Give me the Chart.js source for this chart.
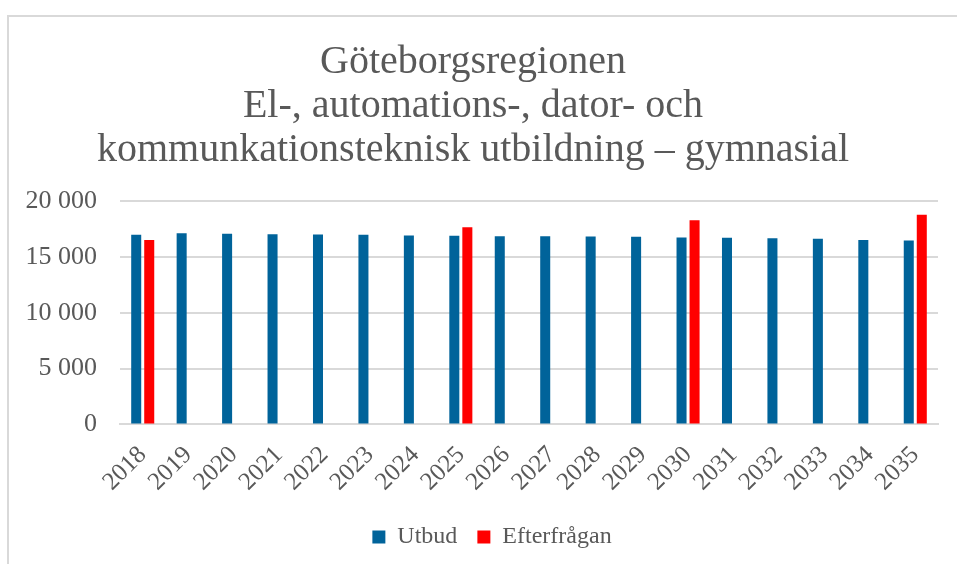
<!DOCTYPE html>
<html>
<head>
<meta charset="utf-8">
<script src="https://cdn.jsdelivr.net/npm/chart.js@4"></script>
<style>
    html, body { margin: 0; padding: 0; background: #fff; overflow: hidden; }
    #frame {
        position: absolute; left: 7px; top: 15px;
        width: 1000px; height: 600px;
        border: 2px solid #d9d9d9;
        box-sizing: border-box;
    }
    #wrap { position: absolute; left: 8px; top: 16px; width: 960px; height: 543px; }
</style>
</head>
<body>
<div id="frame"></div>
<div id="wrap"><canvas id="chart"></canvas></div>
<script>
// Data
const years = ['2018', '2019', '2020', '2021', '2022', '2023', '2024', '2025', '2026',
    '2027', '2028', '2029', '2030', '2031', '2032', '2033', '2034', '2035'];
const utbud = [16970, 17120, 17060, 17030, 17000, 16970, 16910, 16880, 16850,
    16840, 16820, 16790, 16730, 16700, 16670, 16610, 16520, 16460];
const efterfragan = [16520, null, null, null, null, null, null, 17650, null,
    null, null, null, 18280, null, null, null, null, 18760];
const yTicks = [0, 5000, 10000, 15000, 20000];

const textColor = '#595959';
const fontFamily = '"Liberation Serif", "DejaVu Serif", serif';

const fmt = v => String(v).replace(/\B(?=(\d{3})+(?!\d))/g, ' ');

// legend row is centred including its trailing padding, nudge it back
const legendShift = {
    id: 'legendShift',
    afterLayout(chart) {
        chart.legend.left += 19;
        chart.legend.right += 19;
    }
};

const ctx = document.getElementById('chart').getContext('2d');
new Chart(ctx, {
    type: 'bar',
    data: {
        labels: years,
        datasets: [{
            label: 'Utbud',
            data: utbud,
            backgroundColor: '#00639a',
            barPercentage: 0.77,
            categoryPercentage: 0.573
        }, {
            label: 'Efterfrågan',
            data: efterfragan,
            backgroundColor: '#ff0000',
            barPercentage: 0.77,
            categoryPercentage: 0.573
        }]
    },
    plugins: [legendShift],
    options: {
        responsive: true,
        maintainAspectRatio: false,
        animation: false,
        layout: { padding: { left: 0, right: 30, top: 0, bottom: 0 } },
        plugins: {
            title: {
                display: true,
                text: ['Göteborgsregionen', 'El-, automations-, dator- och',
                    'kommunkationsteknisk utbildning – gymnasial'],
                color: textColor,
                font: { family: fontFamily, size: 40, weight: 'normal', lineHeight: 1.1 },
                padding: { top: 24, bottom: 29 }
            },
            legend: {
                position: 'bottom',
                labels: {
                    color: textColor,
                    font: { family: fontFamily, size: 24 },
                    boxWidth: 13,
                    boxHeight: 13,
                    padding: 20
                }
            },
            tooltip: { enabled: false }
        },
        scales: {
            x: {
                grid: { display: false },
                border: { display: true, color: '#d9d9d9', width: 2 },
                ticks: {
                    color: textColor,
                    font: { family: fontFamily, size: 25 },
                    minRotation: 45,
                    maxRotation: 45,
                    autoSkip: false,
                    padding: 8
                }
            },
            y: {
                min: 0,
                max: 20000,
                afterFit: s => { s.width = 112; },
                afterBuildTicks: s => { s.ticks = yTicks.map(v => ({ value: v })); },
                grid: { color: '#d9d9d9', lineWidth: 2, drawTicks: false },
                border: { display: false },
                ticks: {
                    color: textColor,
                    font: { family: fontFamily, size: 26 },
                    padding: 23,
                    callback: v => fmt(v)
                }
            }
        }
    }
});
</script>
</body>
</html>
